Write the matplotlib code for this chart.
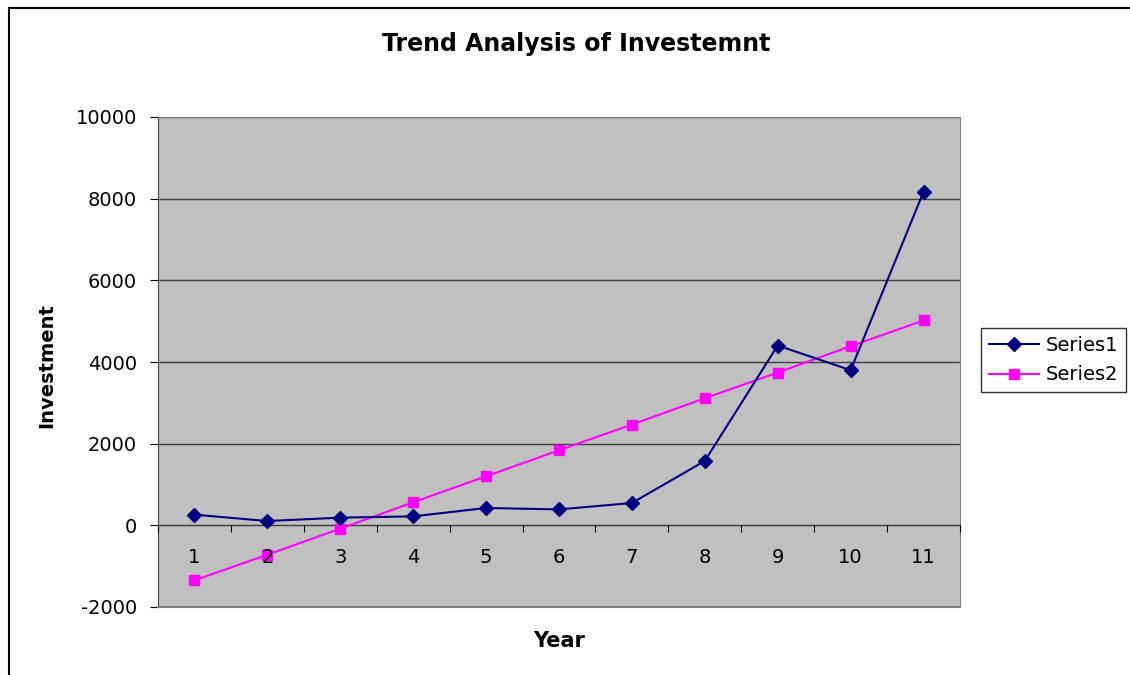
import matplotlib.pyplot as plt
import matplotlib.patches as mpatches
import numpy as np

plt.rcParams['font.family'] = ['DejaVu Sans']

# data
years = [1, 2, 3, 4, 5, 6, 7, 8, 9, 10, 11]
series1 = [262, 105, 188, 220, 425, 390, 547, 1577, 4404, 3799, 8170]
series2 = [-1348, -719, -81, 564, 1201, 1838, 2468, 3113, 3742, 4387, 5017]
yticks = [-2000, 0, 2000, 4000, 6000, 8000, 10000]

fig = plt.figure(figsize=(11.3, 6.75), dpi=100)
ax = fig.add_axes([158/1130, 68/675, 802/1130, 490/675])
ax.set_facecolor('#C0C0C0')

# outer chart border
fig.patches.append(mpatches.Rectangle((9/1130, -0.02), 1.2, 1.02 - 8/675,
                                      transform=fig.transFigure, fill=False,
                                      edgecolor='black', linewidth=1.5))

x = np.arange(len(years))
ax.plot(x, series1, color='#000080', marker='D', markersize=7, linewidth=1.5,
        label='Series1', zorder=4)
ax.plot(x, series2, color='#FF00FF', marker='s', markersize=7, linewidth=1.5,
        label='Series2', zorder=3)

ax.set_xlim(-0.5, len(years) - 0.5)
ax.set_ylim(-2000, 10000)
ax.set_yticks(yticks)
ax.set_yticklabels([str(v) for v in yticks], fontsize=14)
ax.yaxis.grid(True, color='#404040', linewidth=1)
ax.set_axisbelow(True)
ax.xaxis.set_zorder(5)  # category labels sit on top of the lines

# x axis crossing at zero, ticks at category boundaries
ax.spines['bottom'].set_position(('data', 0))
ax.spines['bottom'].set_color('#404040')
ax.set_xticks(np.arange(len(years) + 1) - 0.5)
ax.set_xticklabels([])
ax.set_xticks(x, minor=True)
ax.set_xticklabels([str(y) for y in years], minor=True, fontsize=14)
ax.tick_params(axis='x', which='major', length=5, direction='out', color='black')
ax.tick_params(axis='x', which='minor', length=0, pad=16)
ax.tick_params(axis='y', length=6, pad=9, color='black')

for s in ['top', 'right']:
    ax.spines[s].set_color('#808080')
ax.spines['left'].set_color('#404040')
ax.plot([0, 1], [0, 0], transform=ax.transAxes, color='#808080', lw=1.5,
        clip_on=False, zorder=5)

fig.text(576/1130, 1 - 44/675, 'Trend Analysis of Investemnt', ha='center',
         va='center', fontsize=17, fontweight='bold')
fig.text(559/1130, 1 - 641/675, 'Year', ha='center', va='center',
         fontsize=15, fontweight='bold')
fig.text(47/1130, 1 - 366/675, 'Investment', ha='center', va='center',
         rotation=90, fontsize=14, fontweight='bold')

leg = ax.legend(loc='upper left', bbox_to_anchor=(981/1130, 1 - 328/675),
                bbox_transform=fig.transFigure, borderaxespad=0, fontsize=14,
                frameon=True, fancybox=False, edgecolor='black',
                borderpad=0.4, handlelength=2.6, handletextpad=0.35,
                labelspacing=0.55)
leg.get_frame().set_linewidth(1)

fig.savefig('out.png', dpi=100, facecolor='white')
